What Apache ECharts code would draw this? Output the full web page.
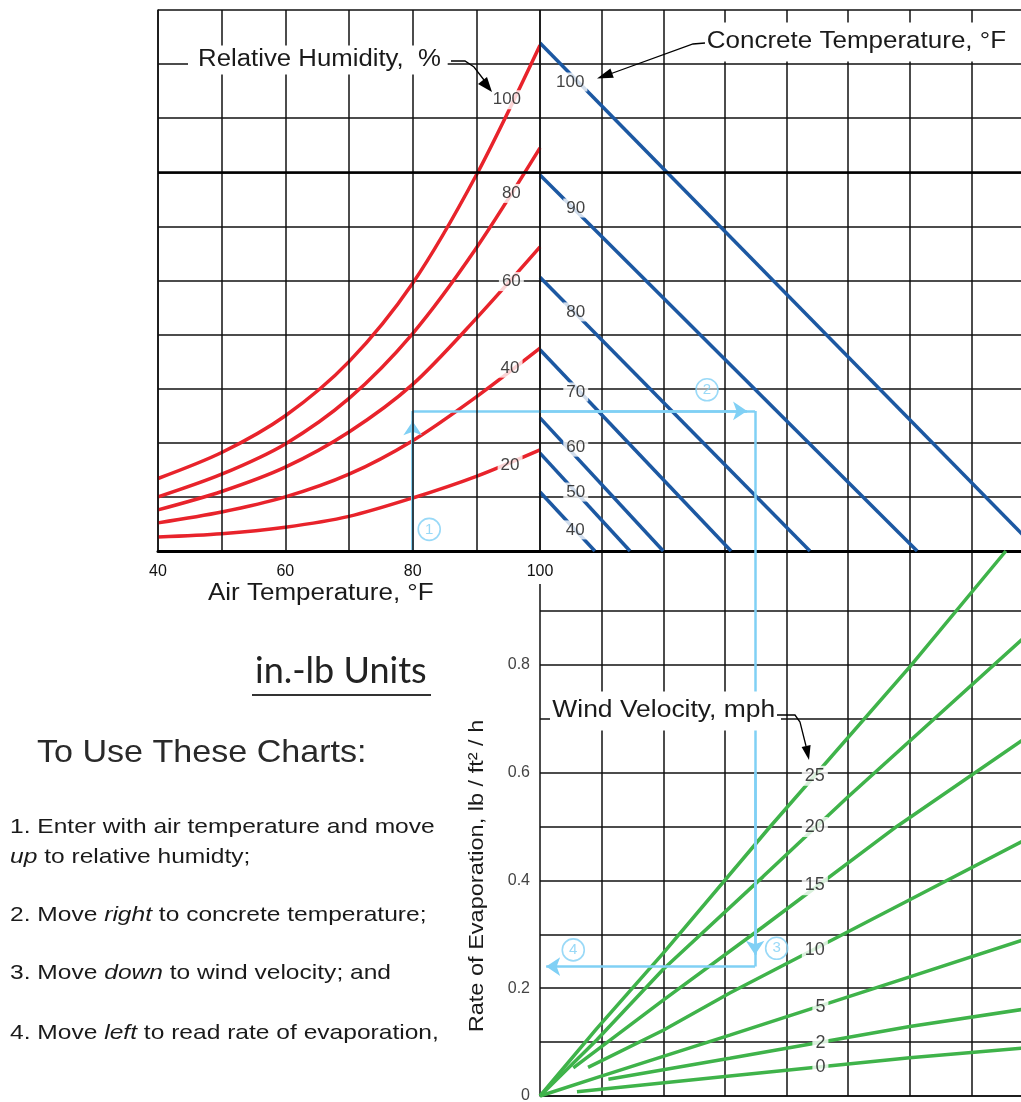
<!DOCTYPE html>
<html>
<head>
<meta charset="utf-8">
<script src="https://cdn.jsdelivr.net/npm/echarts/dist/echarts.min.js"></script>
<style>
  html, body { margin: 0; padding: 0; background: #fff; }
  #chart { width: 1021px; height: 1102px; }
</style>
</head>
<body>
<div id="chart"></div>
<script>
// Relative humidity curves, air temperature in deg F
var airTemps = [40, 50, 60, 70, 80, 90, 100];
var airTicks = [40, 60, 80, 100];
var rh100 = [1.34, 1.82, 2.50, 3.50, 4.95, 6.95, 9.35];
var rh80 = [1.00, 1.42, 1.98, 2.82, 4.02, 5.60, 7.45];
var rh60 = [0.76, 1.10, 1.55, 2.20, 3.08, 4.30, 5.62];
var rh40 = [0.52, 0.72, 1.00, 1.42, 2.04, 2.85, 3.75];
var rh20 = [0.26, 0.32, 0.44, 0.64, 0.98, 1.38, 1.87];
var rhNames = ['100', '80', '60', '40', '20'];
var rhLabelAt = [[94.8, 8.34], [95.5, 6.61], [95.5, 4.98], [95.3, 3.38], [95.3, 1.59]];

// Concrete temperature lines: value on the left edge, value where they meet the bottom
var concreteNames = ['100', '90', '80', '70', '60', '50', '40'];
var concreteStart = [9.39, 6.95, 5.06, 3.72, 2.46, 1.81, 1.09];
var concreteEnd = [8.09, 6.12, 4.38, 3.10, 2.00, 1.46, 0.89];
var concreteLabelAt = [[0.49, 8.67], [0.58, 6.34], [0.58, 4.42], [0.58, 2.94], [0.58, 1.92], [0.58, 1.09], [0.57, 0.39]];

// Wind velocity lines, rate of evaporation lb/ft2/h
var wind25 = [[0, 0], [0.92, 0.125], [2.0, 0.265], [3.73, 0.499], [6.0, 0.796], [7.56, 1.011]];
var wind20 = [[0, 0], [0.92, 0.104], [2.0, 0.235], [3.62, 0.407], [5.0, 0.555], [7.85, 0.85]];
var wind15 = [[0.54, 0.052], [2.0, 0.178], [3.62, 0.314], [5.79, 0.5], [7.85, 0.662]];
var wind10 = [[0.78, 0.053], [2.0, 0.122], [3.08, 0.191], [6.0, 0.364], [7.85, 0.474]];
var wind5 = [[0, 0], [0.92, 0.034], [3.08, 0.113], [6.0, 0.221], [7.85, 0.29]];
var wind2 = [[1.11, 0.031], [3.08, 0.07], [6.0, 0.129], [7.85, 0.161]];
var wind0 = [[0.6, 0.008], [3.08, 0.037], [6.0, 0.071], [7.85, 0.089]];
var windNames = ['25', '20', '15', '10', '5', '2', '0'];
var windLabelAt = [[4.46, 0.594], [4.46, 0.499], [4.46, 0.391], [4.46, 0.271], [4.55, 0.165], [4.55, 0.098], [4.55, 0.054]];
var rateTicks = [0, 0.2, 0.4, 0.6, 0.8];

// Worked example: 80 F air -> across -> down -> left
var exampleAir = 80;
var exampleLevel = 2.59;
var exampleX = 3.49;
var exampleRate = 0.24;

var font = "'Liberation Sans', Arial, sans-serif";
var ink = '#111';
var red = '#e8232b', blue = '#1c58a2', green = '#3fb34a', sky = '#80d0f5';

function pairs(xs, ys) {
	return xs.map(function (x, i) { return [x, ys[i]]; });
}

function thickLine() {
	return {
		silent: true, symbol: ['none', 'none'], label: { show: false },
		lineStyle: { color: '#000', width: 2.6, type: 'solid' },
		data: [{ yAxis: 7 }]
	};
}

function curve(axis, data, color, smooth) {
	return {
		type: 'line', xAxisIndex: axis, yAxisIndex: axis, data: data,
		showSymbol: false, symbol: 'none', smooth: smooth ? 0.3 : false,
		lineStyle: { color: color, width: 3.5 }, z: 3, silent: true, clip: axis !== 2
	};
}

function labels(axis, at, names, size) {
	return {
		type: 'scatter', xAxisIndex: axis, yAxisIndex: axis, symbolSize: 1, z: 10, silent: true,
		itemStyle: { color: 'transparent' },
		data: at.map(function (p, i) { return [p[0], p[1], names[i]]; }),
		label: {
			show: true, position: 'inside', formatter: function (p) { return p.data[2]; },
			fontSize: size, fontFamily: font, color: '#111', backgroundColor: '#fff', padding: [1, 3]
		}
	};
}

function path(axis, lines, arrow) {
	return {
		type: 'lines', coordinateSystem: 'cartesian2d', xAxisIndex: axis, yAxisIndex: axis,
		z: 4, silent: true, symbol: arrow ? ['none', 'arrow'] : ['none', 'none'], symbolSize: 14,
		lineStyle: { color: sky, width: 2.5, opacity: 1, curveness: 0 },
		data: lines.map(function (c) { return { coords: c }; })
	};
}

function step(axis, pts) {
	return {
		type: 'scatter', xAxisIndex: axis, yAxisIndex: axis, symbol: 'circle', symbolSize: 22, z: 6, silent: true,
		itemStyle: { color: 'rgba(255,255,255,0.6)', borderColor: sky, borderWidth: 1.6 },
		data: pts,
		label: { show: true, position: 'inside', formatter: function (p) { return p.data[2]; }, fontSize: 15, fontFamily: font, color: sky }
	};
}

var series = [];
[rh100, rh80, rh60, rh40, rh20].forEach(function (vals) {
	series.push(curve(0, pairs(airTemps, vals), red, true));
});
series[0].markLine = thickLine();
concreteNames.forEach(function (n, i) {
	series.push(curve(1, [[0, concreteStart[i]], [concreteEnd[i], 0]], blue, false));
});
series[5].markLine = thickLine();
[wind25, wind20, wind15, wind10, wind5, wind2, wind0].forEach(function (d) {
	series.push(curve(2, d, green, false));
});

series.push(path(0, [[[exampleAir, 0], [exampleAir, exampleLevel]], [[exampleAir, exampleLevel], [100, exampleLevel]]], false));
series.push(path(0, [[[exampleAir, 0], [exampleAir, 2.4]]], true));
series.push(path(1, [[[0, exampleLevel], [exampleX, exampleLevel]], [[exampleX, exampleLevel], [exampleX, 0]]], false));
series.push(path(1, [[[0, exampleLevel], [3.36, exampleLevel]]], true));
series.push(path(2, [[[exampleX, 1.011], [exampleX, exampleRate]]], false));
series.push(path(2, [[[exampleX, 0.6], [exampleX, 0.262]], [[exampleX, exampleRate], [0.1, exampleRate]]], true));

series.push(labels(0, rhLabelAt, rhNames, 17));
series.push(labels(1, concreteLabelAt, concreteNames, 17));
series.push(labels(2, windLabelAt, windNames, 18));
series.push(step(0, [[82.6, 0.40, '1']]));
series.push(step(1, [[2.71, 2.98, '2']]));
series.push(step(2, [[3.84, 0.274, '3'], [0.54, 0.271, '4']]));

var gridLine = { show: true, lineStyle: { color: ink, width: 1.5 } };
var noTick = { show: false };

// horizontal rules of the lower chart; the 1.0 line is not drawn
var rateLineColors = [];
for (var i = 0; i < 12; i++) rateLineColors.push(i === 10 ? 'rgba(0,0,0,0)' : ink);

function txt(x, y, text, size, o) {
	o = o || {};
	return {
		type: 'text', x: x, y: y, z: 100, scaleX: o.sx || 1, rotation: o.rot || 0, silent: true,
		style: {
			text: text, fontSize: size, fontFamily: o.family || font, fill: o.color || '#1a1a1a',
			align: o.align || 'left', verticalAlign: 'middle',
			textAlign: o.align || 'left', textVerticalAlign: 'middle',
			backgroundColor: o.bg, padding: o.pad, rich: o.rich
		}
	};
}
var italic = { it: { fontStyle: 'italic', fontSize: 21, fontFamily: font, fill: '#1a1a1a' } };

var graphics = [
	txt(188, 60, 'Relative Humidity,  %', 23, { sx: 1.12, bg: '#fff', pad: [3, 6, 3, 9] }),
	txt(700, 42, 'Concrete Temperature, \u00b0F', 23, { sx: 1.13, bg: '#fff', pad: [8, 5, 8, 6] }),
	txt(550, 711, 'Wind Velocity, mph', 23, { sx: 1.15, bg: '#fff', pad: [8, 5, 8, 2] }),
	txt(208, 594, 'Air Temperature, \u00b0F', 23, { sx: 1.13 }),
	txt(477, 876, 'Rate of Evaporation, lb / ft\u00b2 / h', 21, { sx: 1.12, rot: Math.PI / 2, align: 'center' }),
	txt(255, 671, 'in.-lb Units', 36, { family: 'Lato, sans-serif', color: '#222' }),
	{ type: 'line', z: 100, shape: { x1: 252, y1: 695, x2: 431, y2: 695 }, style: { stroke: '#333', lineWidth: 2 } },
	txt(37, 753, 'To Use These Charts:', 32, { sx: 1.065, color: '#2a2a2a' }),
	txt(10, 827, '1. Enter with air temperature and move', 21, { sx: 1.17 }),
	txt(10, 857, '{it|up} to relative humidty;', 21, { sx: 1.17, rich: italic }),
	txt(10, 915, '2. Move {it|right} to concrete temperature;', 21, { sx: 1.17, rich: italic }),
	txt(10, 973, '3. Move {it|down} to wind velocity; and', 21, { sx: 1.17, rich: italic }),
	txt(10, 1033, '4. Move {it|left} to read rate of evaporation,', 21, { sx: 1.17, rich: italic }),
	// leader arrows for the curve families
	{ type: 'polyline', z: 100, shape: { points: [[451, 61], [465, 61], [474, 67], [484, 80]] }, style: { stroke: '#000', lineWidth: 1.3, fill: null } },
	{ type: 'polygon', z: 100, shape: { points: [[492, 92], [478, 84], [487, 77]] }, style: { fill: '#000' } },
	{ type: 'polyline', z: 100, shape: { points: [[705, 43], [693, 44], [610, 74]] }, style: { stroke: '#000', lineWidth: 1.3, fill: null } },
	{ type: 'polygon', z: 100, shape: { points: [[597, 78.5], [610.4, 68.4], [613.8, 77.8]] }, style: { fill: '#000' } },
	{ type: 'polyline', z: 100, shape: { points: [[777, 715], [795, 715], [800, 722], [806, 746]] }, style: { stroke: '#000', lineWidth: 1.3, fill: null } },
	{ type: 'polygon', z: 100, shape: { points: [[809, 760], [810.6, 745], [801.6, 747]] }, style: { fill: '#000' } }
];

var chart = echarts.init(document.getElementById('chart'), null, { renderer: 'canvas' });
chart.setOption({
	animation: false,
	backgroundColor: '#fff',
	grid: [
		{ left: 158, top: 10, width: 382, height: 541, outerBoundsMode: 'none', containLabel: false },
		{ left: 540, top: 10, width: 493, height: 541, outerBoundsMode: 'none', containLabel: false },
		{ left: 540, top: 551, width: 493, height: 545, outerBoundsMode: 'none', containLabel: false }
	],
	xAxis: [
		{
			gridIndex: 0, type: 'value', min: 40, max: 100, interval: 10, z: 5,
			axisLine: { show: true, onZero: false, lineStyle: { color: '#000', width: 3 } },
			axisTick: noTick, splitLine: gridLine,
			axisLabel: {
				show: true, interval: 0, margin: 2, fontSize: 16, fontFamily: font, color: '#111',
				backgroundColor: '#fff', padding: [11, 3, 4, 3],
				formatter: function (v) { return airTicks.indexOf(v) >= 0 ? String(v) : ''; }
			}
		},
		{
			gridIndex: 1, type: 'value', min: 0, max: 8, interval: 1,
			axisLine: { show: true, onZero: false, lineStyle: { color: '#000', width: 3 } },
			axisTick: noTick, axisLabel: { show: false }, splitLine: gridLine
		},
		{
			gridIndex: 2, type: 'value', min: 0, max: 8, interval: 1,
			axisLine: { show: true, onZero: false, lineStyle: { color: ink, width: 1.5 } },
			axisTick: noTick, axisLabel: { show: false }, splitLine: gridLine
		}
	],
	yAxis: [
		{
			gridIndex: 0, type: 'value', min: 0, max: 10, interval: 1,
			axisLine: { show: true, lineStyle: { color: ink, width: 1.5 } },
			axisTick: noTick, axisLabel: { show: false }, splitLine: gridLine
		},
		{
			gridIndex: 1, type: 'value', min: 0, max: 10, interval: 1,
			axisLine: { show: false }, axisTick: noTick, axisLabel: { show: false }, splitLine: gridLine
		},
		{
			gridIndex: 2, type: 'value', min: 0, max: 1.011, interval: 0.1,
			axisLine: { show: false }, axisTick: noTick,
			axisLabel: {
				show: true, margin: 10, fontSize: 16, fontFamily: font, color: '#444',
				formatter: function (v) {
					for (var k = 0; k < rateTicks.length; k++) {
						if (Math.abs(rateTicks[k] - v) < 1e-6) return rateTicks[k] === 0 ? '0' : rateTicks[k].toFixed(1);
					}
					return '';
				}
			},
			splitLine: { show: true, lineStyle: { color: rateLineColors, width: 1.5 } }
		}
	],
	series: series,
	graphic: graphics
});
</script>
</body>
</html>
